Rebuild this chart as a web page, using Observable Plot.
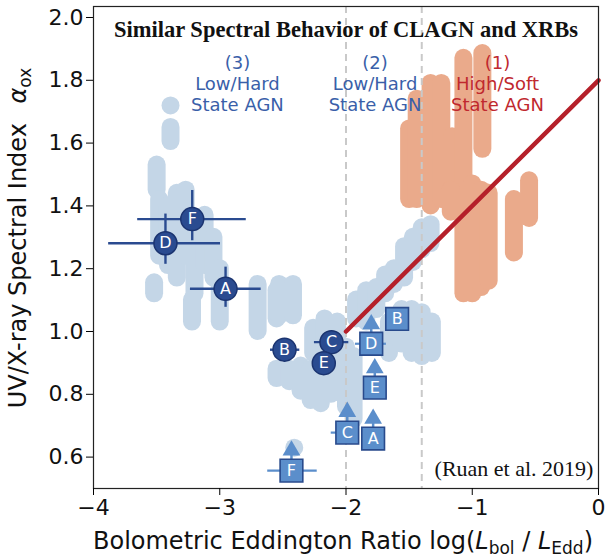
<!DOCTYPE html>
<html><head><meta charset="utf-8">
<script src="https://cdn.jsdelivr.net/npm/d3@7"></script>
<script src="https://cdn.jsdelivr.net/npm/@observablehq/plot@0.6"></script>
<style>body{margin:0;background:#fff}</style>
</head><body><div id="chart"></div>
<script>
// ---- data ----
// light-blue AGN sample: vertical streaks of overlapping points (x, top, bottom)
const blueX   = [-3.39,-3.50,-3.48,-3.41,-3.34,-3.27,-3.20,-3.12,-3.05,-3.00,-3.22,-3.52,-2.70,
                 -2.55,-2.53,-2.42,-2.55,-2.45,-2.36,-2.28,-2.20,-2.12,-2.26,-2.17,-2.07,-2.00,-1.94,
                 -1.92,-1.84,-1.76,-1.69,-1.62,-1.54,-1.47,-1.40,-1.33,-1.66,-1.56,-1.48,-1.40,-1.32];
const blueTop = [1.65,1.53,1.42,1.40,1.44,1.45,1.36,1.37,1.30,1.20,1.10,1.155,1.15,
                 1.13,1.15,1.15,0.88,0.88,0.89,0.88,0.87,0.88,1.01,1.04,1.03,0.95,0.92,
                 1.10,1.13,1.14,1.18,1.20,1.27,1.30,1.33,1.34,1.03,1.07,1.07,1.06,1.03];
const blueBot = [1.605,1.45,1.24,1.21,1.17,1.24,1.12,1.21,1.17,1.03,1.03,1.12,1.00,
                 1.04,1.05,1.05,0.85,0.84,0.81,0.78,0.77,0.80,0.93,0.95,0.90,0.76,0.72,
                 1.04,1.03,1.07,1.12,1.15,1.17,1.22,1.26,1.28,0.93,0.96,0.93,0.92,0.93];
const blueDotX = [-3.39, -2.41];
const blueDotY = [1.72, 0.63];
// orange high/soft state points: vertical streaks (x, top, bottom)
const orangeX   = [-1.50,-1.44,-1.33,-1.245,-1.16,-1.07,-1.00,-0.92,-0.93,-0.87,-0.67,-0.55,-1.17];
const orangeTop = [1.645,1.74,1.79,1.79,1.62,1.87,1.47,1.885,1.45,1.44,1.42,1.48,1.45];
const orangeBot = [1.42,1.42,1.40,1.42,1.40,1.12,1.12,1.58,1.14,1.16,1.25,1.36,1.38];
// red fit line
const fitX = [-2, 0];
const fitY = [1.0, 1.8];
// dividing lines
const dividers = [-2, -1.4];
// CLAGN measurements (circles)
const cLab = ["F","D","A","B","C","E"];
const cX   = [-3.218,-3.43,-2.954,-2.487,-2.115,-2.176];
const cY   = [1.358,1.281,1.136,0.942,0.966,0.899];
const cXlo = [-3.65,-3.88,-3.232,-2.598,-2.25,null];
const cXhi = [-2.79,-2.994,-2.672,-2.366,-1.978,null];
const cYlo = [1.289,1.214,1.077,null,null,null];
const cYhi = [1.449,1.374,1.205,null,null,null];
// CLAGN lower limits (squares)
const sLab = ["D","B","E","C","A","F"];
const sX   = [-1.80,-1.595,-1.772,-1.99,-1.785,-2.432];
const sY   = [0.961,1.04,0.821,0.678,0.659,0.557];
const sTip = [1.055,null,0.915,0.776,0.754,0.653];
const sXlo = [-1.925,null,null,-2.117,null,-2.62];
const sXhi = [-1.68,null,null,-1.893,null,-2.228];
const xTicks = [-4,-3,-2,-1,0];
const yTicks = [0.6,0.8,1.0,1.2,1.4,1.6,1.8,2.0];

// ---- tables ----
const blue = blueX.map((x,i)=>({x, y1: blueTop[i], y2: blueBot[i]}));
const blueDots = blueDotX.map((x,i)=>({x, y: blueDotY[i]}));
const orange = orangeX.map((x,i)=>({x, y1: orangeTop[i], y2: orangeBot[i]}));
const fit = fitX.map((x,i)=>({x, y: fitY[i]}));
const circ = cLab.map((l,i)=>({l, x:cX[i], y:cY[i], xlo:cXlo[i], xhi:cXhi[i], ylo:cYlo[i], yhi:cYhi[i]}));
const sq = sLab.map((l,i)=>({l, x:sX[i], y:sY[i], tip:sTip[i], xlo:sXlo[i], xhi:sXhi[i]}));

const LB = "#c4d6e7", OR = "#eaaa8b", DK = "#2a4b90", DKS = "#1b3470", SQ = "#5b8ecb", SQS = "#284a8c";
const annBlue = "#3a5fa9", annRed = "#c0282e";

const chart = Plot.plot({
  width: 608, height: 560,
  marginLeft: 93, marginRight: 10, marginTop: 6, marginBottom: 72,
  style: {fontFamily: "DejaVu Sans", background: "#fff"},
  x: {domain: [-4, 0]},
  y: {domain: [0.5, 2.035]},
  marks: [
    Plot.ruleX(blue, {x:"x", y1:"y1", y2:"y2", stroke: LB, strokeWidth: 18, strokeLinecap: "round"}),
    Plot.dot(blueDots, {x:"x", y:"y", r: 9, fill: LB}),
    Plot.ruleX(orange, {x:"x", y1:"y1", y2:"y2", stroke: OR, strokeWidth: 18, strokeLinecap: "round"}),
    Plot.ruleX(dividers, {stroke: "#c9c9c9", strokeWidth: 2, strokeDasharray: "7,5"}),
    Plot.line(fit, {x:"x", y:"y", stroke: "#b5202a", strokeWidth: 4.5}),
    // square error bars & arrows
    Plot.ruleY(sq.filter(d=>d.xlo!=null), {y:"y", x1:"xlo", x2:"xhi", stroke: SQ, strokeWidth: 2.2}),
    Plot.ruleX(sq.filter(d=>d.tip!=null), {x:"x", y1:"y", y2:"tip", stroke: SQ, strokeWidth: 2.5, dy: 8}),
    Plot.dot(sq.filter(d=>d.tip!=null), {x:"x", y:"tip", symbol: "triangle", r: 6.6, fill: SQ, dy: 10}),
    Plot.dot(sq, {x:"x", y:"y", symbol: "square", r: 12.8, fill: SQ, stroke: SQS, strokeWidth: 1.6}),
    Plot.text(sq, {x:"x", y:"y", text:"l", fill: "white", fontSize: 16}),
    // circle error bars
    Plot.ruleY(circ.filter(d=>d.xlo!=null), {y:"y", x1:"xlo", x2:"xhi", stroke: DK, strokeWidth: 2.4}),
    Plot.ruleX(circ.filter(d=>d.ylo!=null), {x:"x", y1:"ylo", y2:"yhi", stroke: DK, strokeWidth: 2.4}),
    Plot.dot(circ, {x:"x", y:"y", r: 11.5, fill: DK, stroke: DKS, strokeWidth: 1.5}),
    Plot.text(circ, {x:"x", y:"y", text:"l", fill: "white", fontSize: 16}),
    // annotations
    Plot.text(["(3)\nLow/Hard\nState AGN"], {x: -2.86, y: 1.79, fill: annBlue, fontSize: 18, lineHeight: 1.14}),
    Plot.text(["(2)\nLow/Hard\nState AGN"], {x: -1.77, y: 1.79, fill: annBlue, fontSize: 18, lineHeight: 1.14}),
    Plot.text(["(1)\nHigh/Soft\nState AGN"], {x: -0.80, y: 1.79, fill: annRed, fontSize: 18, lineHeight: 1.14}),
    Plot.text(["Similar Spectral Behavior of CLAGN and XRBs"], {frameAnchor: "top", dy: 15, fontFamily: "Liberation Serif", fontWeight: "bold", fontSize: 22.5, fill: "#111"}),
    Plot.text(["(Ruan et al. 2019)"], {x: -0.04, y: 0.561, textAnchor: "end", fontFamily: "Liberation Serif", fontSize: 22, fill: "#111"}),
    Plot.frame({stroke: "#222", strokeWidth: 1.2}),
    Plot.axisX({ticks: xTicks, tickSize: 7, tickPadding: 4, fontSize: 22, label: null, stroke: "#000", fill: "#111",
      tickFormat: d => (d < 0 ? "\u2212" : "") + Math.abs(d)}),
    Plot.axisY({ticks: yTicks, tickSize: 7, tickPadding: 3, fontSize: 22, label: null, tickFormat: d3.format(".1f"), stroke: "#000", fill: "#111"})
  ]
});
document.getElementById("chart").appendChild(chart);

// axis titles with italic symbols and subscripts
const svg = d3.select(chart);
const xl = svg.append("text").attr("x", 343).attr("y", 549).attr("text-anchor", "middle")
  .attr("font-family", "DejaVu Sans").attr("font-size", 24).attr("fill", "#111");
xl.append("tspan").text("Bolometric Eddington Ratio log(");
xl.append("tspan").attr("font-style", "italic").text("L");
xl.append("tspan").attr("font-size", 17).attr("dy", 5).text("bol");
xl.append("tspan").attr("dy", -5).text(" / ");
xl.append("tspan").attr("font-style", "italic").text("L");
xl.append("tspan").attr("font-size", 17).attr("dy", 5).text("Edd");
xl.append("tspan").attr("dy", -5).text(")");

const yl = svg.append("text").attr("transform", "translate(26,238) rotate(-90)").attr("text-anchor", "middle")
  .attr("font-family", "DejaVu Sans").attr("font-size", 24).attr("fill", "#111");
yl.append("tspan").text("UV/X-ray Spectral Index\u2002 ");
yl.append("tspan").attr("font-style", "italic").text("α");
yl.append("tspan").attr("font-size", 17).attr("dy", 5).text("ox");
</script></body></html>
